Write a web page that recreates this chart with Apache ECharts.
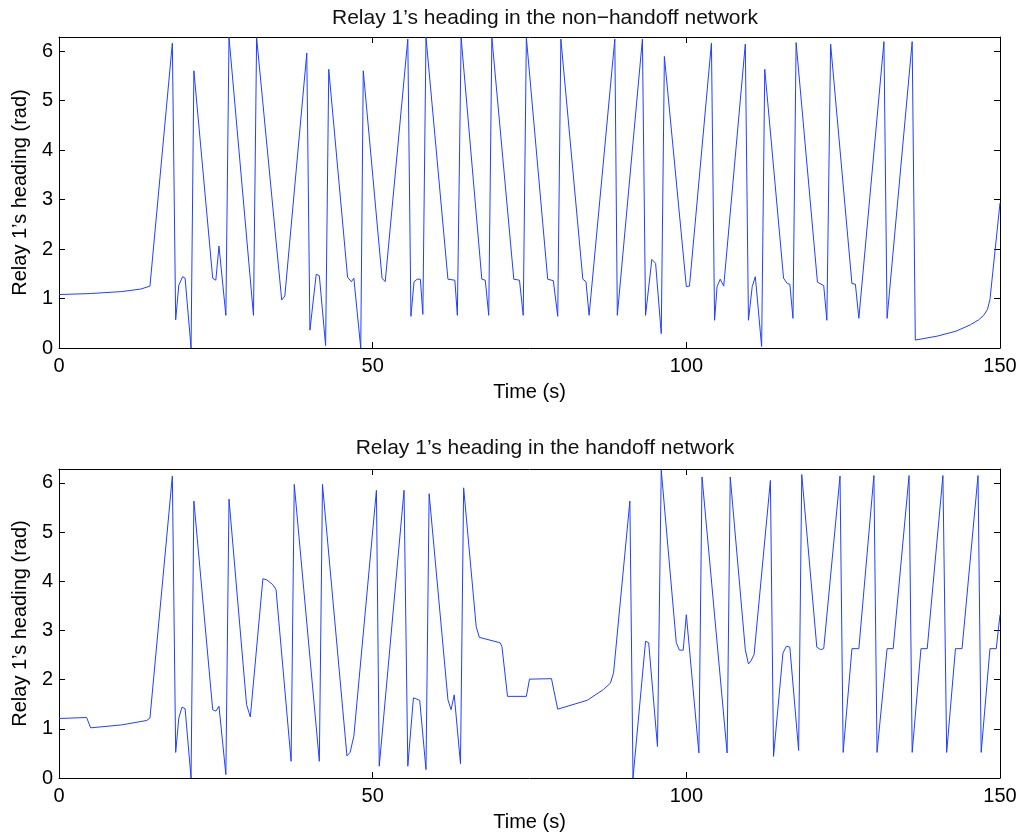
<!DOCTYPE html>
<html>
<head>
<meta charset="utf-8">
<title>Relay 1 heading</title>
<script src="https://cdn.jsdelivr.net/npm/echarts@6/dist/echarts.min.js"></script>
<style>
  html, body { margin: 0; padding: 0; background: #fff; }
  #chart { width: 1023px; height: 837px; }
</style>
</head>
<body>
<div id="chart"></div>
<script>
// top panel: non-handoff network
const time1 = [0, 5, 10, 13, 14.5, 18.07, 18.6, 19.1, 19.7, 20.1, 21.05, 21.5, 24.5, 25.0, 25.5, 26.6, 27.1,
  31.0, 31.5, 35.5, 36.0, 39.5, 40.0, 41.0, 41.5, 42.5, 43.0, 46.0, 46.6, 47.0, 48.1, 48.5, 51.5, 52.0,
  55.6, 56.1, 56.6, 57.1, 57.6, 58.0, 58.5, 62.0, 63.1, 63.5, 64.1, 67.4, 67.95, 68.5, 69.0, 72.5, 73.4,
  74.0, 74.5, 77.9, 78.8, 79.5, 80.0, 83.5, 84.0, 84.5, 88.6, 89.0, 93.0, 93.5, 94.5, 95.1, 96.0, 96.5,
  100.0, 100.5, 104.0, 104.5, 104.9, 105.4, 105.96, 109.4, 109.9, 110.5, 111.0, 112.0, 112.5, 115.5,
  116.1, 116.5, 117.0, 117.5, 120.9, 121.9, 122.4, 123.0, 126.4, 126.95, 127.5, 131.5, 132.0, 136.0,
  136.5, 140, 143, 145.3, 146.6, 147.4, 148.0, 148.4, 150];
const heading1 = [1.08, 1.10, 1.14, 1.19, 1.25, 6.16, 0.57, 1.27, 1.44, 1.41, 0.0, 5.6, 1.41, 1.37, 2.06, 0.66, 6.28,
  0.66, 6.27, 0.97, 1.05, 5.96, 0.36, 1.49, 1.46, 0.05, 5.63, 1.43, 1.34, 1.41, 0.0, 5.6, 1.41, 1.34,
  6.24, 0.64, 1.34, 1.39, 1.39, 0.68, 6.28, 1.39, 1.37, 0.66, 6.27, 1.39, 1.37, 0.66, 6.27, 1.39, 1.37,
  0.66, 6.27, 1.39, 1.36, 0.64, 6.24, 1.39, 1.34, 0.66, 6.24, 0.66, 6.24, 0.66, 1.79, 1.71, 0.29, 5.89,
  1.24, 1.25, 6.16, 0.56, 1.24, 1.39, 1.25, 6.14, 0.56, 1.24, 1.44, 0.03, 5.63, 1.41,
  1.30, 1.29, 0.60, 6.17, 1.33, 1.26, 0.56, 6.14, 1.30, 1.29, 0.60, 6.19, 0.60, 6.19,
  0.16, 0.24, 0.34, 0.47, 0.57, 0.66, 0.78, 0.98, 2.93];

// bottom panel: handoff network
const time2 = [0, 4.4, 5.05, 10, 14.0, 14.5, 18.07, 18.6, 19.1, 19.6, 20.1, 21.05, 21.5, 24.5, 25.0, 25.5, 26.6,
  27.1, 29.9, 30.5, 32.5, 33.1, 34.1, 34.6, 37.0, 37.5, 41.5, 42.0, 45.9, 46.4, 47.0, 50.6, 51.05, 55.0,
  55.6, 56.5, 57.5, 58.5, 59.0, 62.0, 62.5, 63.0, 64.0, 64.5, 66.5, 67.0, 70.3, 70.6, 71.5, 74.5, 75.0,
  78.5, 79.5, 84.2, 86.8, 87.9, 88.4, 91.0, 91.5, 93.5, 94.0, 95.4, 96.0, 98.4, 98.9, 99.5, 100.0, 102.0,
  102.5, 106.5, 107.0, 109.4, 109.9, 110.3, 110.8, 113.4, 113.9, 115.4, 115.95, 116.5, 117.9, 118.4,
  120.8, 121.4, 121.9, 124.5, 125.0, 126.4, 127.5, 129.9, 130.4, 132.0, 132.97, 135.5, 136.0, 137.4,
  138.4, 140.9, 141.5, 142.9, 143.95, 146.5, 147.0, 148.4, 149.4, 150.0];
const heading2 = [1.21, 1.23, 1.02, 1.08, 1.17, 1.22, 6.14, 0.52, 1.22, 1.44, 1.41, 0.0, 5.63, 1.39, 1.36, 1.46, 0.07,
  5.67, 1.49, 1.24, 4.05, 4.03, 3.93, 3.83, 0.34, 5.97, 0.34, 5.97, 0.45, 0.52, 0.85, 5.85, 0.24, 5.85,
  0.24, 1.63, 1.58, 0.17, 5.78, 1.59, 1.39, 1.69, 0.29, 5.90, 3.08, 2.86, 2.75, 2.68, 1.66, 1.66, 2.01,
  2.02, 1.40, 1.58, 1.80, 1.93, 2.14, 5.63, 0.0, 2.78, 2.75, 0.64, 6.26, 2.75, 2.60, 2.60, 3.32, 0.51,
  6.12, 0.51, 6.12, 2.61, 2.32, 2.38, 2.51, 6.05, 0.44, 2.54, 2.68, 2.66, 0.56, 6.17,
  2.66, 2.61, 2.63, 6.14, 0.52, 2.63, 2.63, 6.15, 0.52, 2.63, 2.63, 6.15, 0.52, 2.63,
  2.63, 6.15, 0.52, 2.63, 2.63, 6.15, 0.52, 2.63, 2.63, 3.32];

const titles = ['Relay 1\u2019s heading in the non\u2212handoff network', 'Relay 1\u2019s heading in the handoff network'];
const xTicks = [0, 50, 100, 150];
const xName = 'Time (s)';
const yName = 'Relay 1\u2019s heading (rad)';
const yMax = 2 * Math.PI;

const font = "'Liberation Sans', Arial, Helvetica, sans-serif";
const ink = '#000';

const chart = echarts.init(document.getElementById('chart'), null, { renderer: 'canvas' });

function xAxes(gridIndex) {
  const base = {
    type: 'value',
    gridIndex,
    min: xTicks[0],
    max: xTicks[xTicks.length - 1],
    interval: xTicks[1] - xTicks[0],
    splitLine: { show: false },
    axisLine: { onZero: false, lineStyle: { color: ink, width: 1 } },
    axisTick: { inside: true, length: 6, lineStyle: { color: ink } },
  };
  return [
    {
      ...base,
      position: 'bottom',
      axisLabel: { color: ink, fontSize: 20, fontFamily: font, margin: 8 },
      name: xName,
      nameLocation: 'middle',
      nameGap: 34,
      nameTextStyle: { color: ink, fontSize: 20, fontFamily: font },
    },
    { ...base, position: 'top', axisLabel: { show: false } },
  ];
}

function yAxes(gridIndex) {
  const base = {
    type: 'value',
    gridIndex,
    min: 0,
    max: yMax,
    interval: 1,
    splitLine: { show: false },
    axisLine: { onZero: false, lineStyle: { color: ink, width: 1 } },
    axisTick: { inside: true, length: 6, lineStyle: { color: ink } },
  };
  return [
    {
      ...base,
      position: 'left',
      axisLabel: {
        color: ink, fontSize: 20, fontFamily: font, margin: 6,
        formatter: v => (Math.abs(v - Math.round(v)) < 1e-6 ? String(Math.round(v)) : ''),
      },
      name: yName,
      nameLocation: 'middle',
      nameRotate: 90,
      nameGap: 28,
      nameTextStyle: { color: ink, fontSize: 20, fontFamily: font },
    },
    { ...base, position: 'right', axisLabel: { show: false } },
  ];
}

function pairs(ts, vs) {
  return ts.map((t, i) => [t, vs[i]]);
}

chart.setOption({
  animation: false,
  backgroundColor: '#fff',
  title: [
    { text: titles[0], left: 540, top: 3, textAlign: 'center',
      textStyle: { color: '#111', fontSize: 21, fontWeight: 'normal', fontFamily: font } },
    { text: titles[1], left: 540, top: 433, textAlign: 'center',
      textStyle: { color: '#111', fontSize: 21, fontWeight: 'normal', fontFamily: font } },
  ],
  grid: [
    { left: 59, top: 37, width: 941, height: 311 },
    { left: 59, top: 469, width: 941, height: 309 },
  ],
  xAxis: [...xAxes(0), ...xAxes(1)],
  yAxis: [...yAxes(0), ...yAxes(1)],
  series: [
    {
      type: 'line', xAxisIndex: 0, yAxisIndex: 0,
      data: pairs(time1, heading1),
      showSymbol: false, symbol: 'none',
      lineStyle: { color: '#2040ff', width: 1 },
    },
    {
      type: 'line', xAxisIndex: 2, yAxisIndex: 2,
      data: pairs(time2, heading2),
      showSymbol: false, symbol: 'none',
      lineStyle: { color: '#2040ff', width: 1 },
    },
  ],
});
</script>
</body>
</html>
